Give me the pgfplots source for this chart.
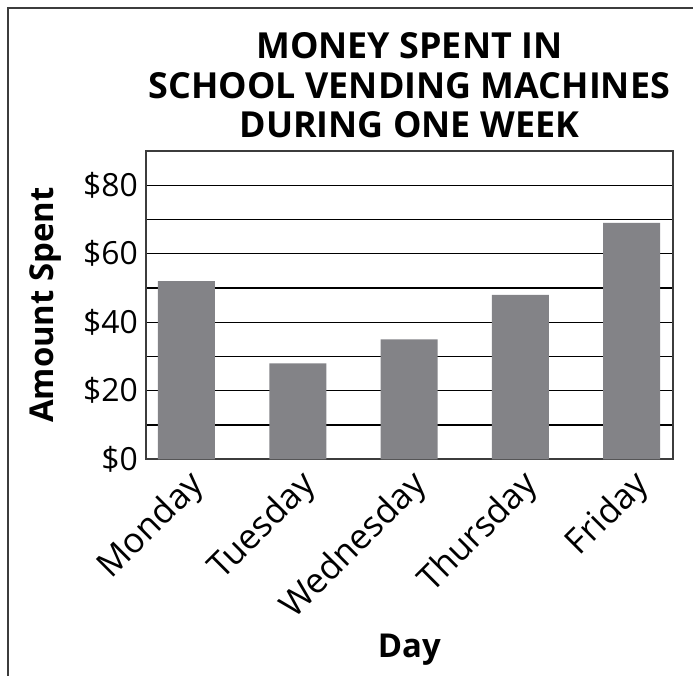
\documentclass[border=0pt]{standalone}
\usepackage{pgfplots}
\pgfplotsset{compat=1.18}
\usepackage{fontspec}
\setmainfont{Open Sans}
\definecolor{barcol}{RGB}{131,131,135}
\definecolor{framecol}{RGB}{60,60,60}
\begin{document}
\begin{tikzpicture}
\useasboundingbox (0bp,0bp) rectangle (693bp,676bp);
\draw[line width=2bp, framecol] (8bp,0bp) -- (8bp,668bp) -- (693bp,668bp);
\begin{axis}[
  at={(146bp,216.7bp)}, anchor=south west,
  scale only axis, width=526.7bp, height=308.3bp,
  ymin=0, ymax=90, xmin=-0.364, xmax=4.37,
  ybar, bar width=57bp,
  axis line style={framecol, line width=2bp},
  ytick={0,20,...,80}, minor ytick={10,30,...,70},
  grid=both,
  major grid style={black, line width=1.2bp},
  minor grid style={black, line width=1.2bp},
  xmajorgrids=false, xminorgrids=false,
  major tick length=0pt, minor tick length=0pt,
  /pgf/number format/assume math mode=true,
  yticklabel={\$\pgfmathprintnumber{\tick}},
  yticklabel style={font=\fontsize{32}{36}\selectfont, inner sep=0pt, xshift=-8bp},
  xtick={0,1,2,3,4},
  xticklabels={Monday,Tuesday,Wednesday,Thursday,Friday},
  xticklabel style={font=\fontsize{35}{38}\selectfont, xshift=0bp, yshift=-8bp, rotate=45, anchor=north east, inner sep=0pt},
  xlabel={Day},
  xlabel style={font=\bfseries\fontsize{33}{36}\selectfont, at={(axis description cs:0.5,-0.618)}, anchor=center},
  ylabel={Amount Spent},
  ylabel style={font=\bfseries\fontsize{33}{36}\selectfont, at={(axis description cs:-0.19,0.5)}, anchor=center},
  title={MONEY SPENT IN\\SCHOOL VENDING MACHINES\\DURING ONE WEEK},
  title style={font=\bfseries\fontsize{36}{40}\selectfont, align=center, at={(axis description cs:0.5,1.194)}, anchor=center},
]
\addplot[fill=barcol, draw=none] coordinates {(0,52) (1,28) (2,35) (3,48) (4,69)};
\end{axis}
\end{tikzpicture}
\end{document}
